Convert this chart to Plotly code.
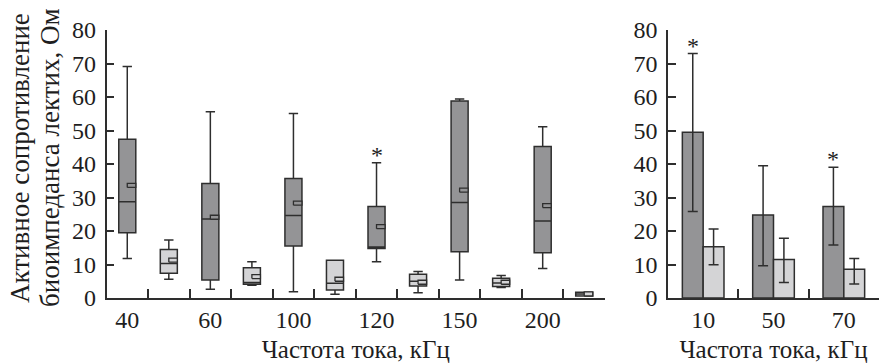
import plotly.graph_objects as go

# ---------------- data ----------------
freq_left = ["40", "60", "100", "120", "150", "200"]
dark_min = [11.8, 2.6, 1.9, 10.8, 5.4, 8.8]
dark_q1 = [19.5, 5.4, 15.5, 14.8, 13.8, 13.5]
dark_med = [28.7, 23.6, 24.6, 15.2, 28.5, 23.0]
dark_q3 = [47.4, 34.2, 35.7, 27.3, 58.8, 45.2]
dark_max = [69.1, 55.6, 55.1, 40.4, 59.4, 51.1]
dark_mean = [33.6, 24.1, 28.3, 21.3, 32.2, 27.6]

light_min = [5.6, 3.8, 1.1, 1.6, 3.1, 0.6]
light_q1 = [7.4, 4.1, 2.4, 3.6, 3.4, 0.6]
light_med = [10.3, 4.6, 4.4, 5.0, 4.5, 1.2]
light_q3 = [14.5, 9.0, 11.3, 7.1, 5.9, 1.7]
light_max = [17.3, 10.8, 11.3, 7.9, 6.7, 1.7]
light_mean = [11.3, 6.4, 5.6, 4.7, 4.7, 1.2]

freq_right = ["10", "50", "70"]
dark_bar = [49.5, 24.8, 27.3]
dark_err_hi = [73.0, 39.5, 39.0]
dark_err_lo = [25.8, 9.6, 15.8]
light_bar = [15.3, 11.5, 8.6]
light_err_hi = [20.6, 17.8, 11.8]
light_err_lo = [9.9, 4.6, 4.2]

star_left = ["120"]
star_left_y = [43.7]
star_right = ["10", "70"]
star_right_y = [76.0, 42.5]

y_title_lines = ["Активное сопротивление", "биоимпеданса лектих, Ом"]
x_title = "Частота тока, кГц"

# ---------------- style ----------------
DARK = "#949496"
LIGHT = "#d4d4d6"
EDGE = "#2e2e2e"
FONT = "Liberation Serif"
TXT = "#1e1e1e"

n = len(freq_left)
pos_dark = [2 * i for i in range(n)]
pos_light = [2 * i + 1 for i in range(n)]
bounds_left = [p + 0.5 for p in pos_dark + pos_light]

fig = go.Figure()

box_w = 0.41
for pos, q1, med, q3, lo, hi, fill in [
    (pos_dark, dark_q1, dark_med, dark_q3, dark_min, dark_max, DARK),
    (pos_light, light_q1, light_med, light_q3, light_min, light_max, LIGHT),
]:
    fig.add_trace(go.Box(
        x=pos, q1=q1, median=med, q3=q3, lowerfence=lo, upperfence=hi,
        fillcolor=fill, line=dict(color=EDGE, width=1.5),
        width=box_w, whiskerwidth=0.55, boxpoints=False,
        xaxis="x", yaxis="y", showlegend=False, hoverinfo="skip",
    ))

# mean markers: small rectangle from box center to right edge
mh = 0.6
for pos, mean, fill in [(pos_dark, dark_mean, DARK), (pos_light, light_mean, LIGHT)]:
    xs, ys = [], []
    for p, m in zip(pos, mean):
        x0, x1 = p, p + box_w / 2
        xs += [x0, x1, x1, x0, x0, None]
        ys += [m - mh, m - mh, m + mh, m + mh, m - mh, None]
    fig.add_trace(go.Scatter(
        x=xs, y=ys, mode="lines", fill="toself", fillcolor=fill,
        line=dict(color=EDGE, width=1.3),
        xaxis="x", yaxis="y", showlegend=False, hoverinfo="skip",
    ))

# right panel bars
bw = 0.296
rpos = list(range(len(freq_right)))
bounds_right = [p + 0.5 for p in rpos]
fig.add_trace(go.Bar(
    x=rpos, y=dark_bar, width=bw, offset=-bw,
    marker=dict(color=DARK, line=dict(color=EDGE, width=1.5)),
    error_y=dict(type="data", symmetric=False,
                 array=[h - v for h, v in zip(dark_err_hi, dark_bar)],
                 arrayminus=[v - l for l, v in zip(dark_err_lo, dark_bar)],
                 color=EDGE, thickness=1.5, width=5),
    xaxis="x2", yaxis="y2", showlegend=False,
))
fig.add_trace(go.Bar(
    x=rpos, y=light_bar, width=bw, offset=0,
    marker=dict(color=LIGHT, line=dict(color=EDGE, width=1.5)),
    error_y=dict(type="data", symmetric=False,
                 array=[h - v for h, v in zip(light_err_hi, light_bar)],
                 arrayminus=[v - l for l, v in zip(light_err_lo, light_bar)],
                 color=EDGE, thickness=1.5, width=5),
    xaxis="x2", yaxis="y2", showlegend=False,
))

# invisible traces so the label axes render
fig.add_trace(go.Scatter(x=pos_dark, y=[None] * n, xaxis="x3", yaxis="y",
                         showlegend=False, hoverinfo="skip"))
fig.add_trace(go.Scatter(x=rpos, y=[None] * len(rpos), xaxis="x4", yaxis="y2",
                         showlegend=False, hoverinfo="skip"))

annotations = []
for f, yv in zip(star_left, star_left_y):
    annotations.append(dict(x=pos_dark[freq_left.index(f)], y=yv, xref="x", yref="y",
                            text="*", showarrow=False, yanchor="middle", yshift=-3,
                            font=dict(family=FONT, size=24, color=TXT)))
for f, yv in zip(star_right, star_right_y):
    annotations.append(dict(x=freq_right.index(f) - bw / 2, y=yv, xref="x2", yref="y2",
                            text="*", showarrow=False, yanchor="middle", yshift=-3,
                            font=dict(family=FONT, size=24, color=TXT)))
for i, line in enumerate(y_title_lines):
    annotations.append(dict(x=(20 + 30 * i) / 880, y=(363 - 158) / 363, xref="paper", yref="paper",
                            text=line, textangle=-90, showarrow=False,
                            xanchor="center", yanchor="middle",
                            font=dict(family=FONT, size=27, color=TXT)))

W, H = 880, 363
yd = [(H - 298) / H, (H - 30) / H]
dl = [106.5 / W, 605 / W]
dr = [668 / W, 879 / W]

tf = dict(family=FONT, size=24, color=TXT)
line_ax = dict(showline=True, linecolor=EDGE, linewidth=1.5, showgrid=False, automargin=False,
               zeroline=False, ticks="inside", ticklen=9, tickcolor=EDGE, tickwidth=1.5,
               showticklabels=False)
label_ax = dict(showline=False, showgrid=False, zeroline=False, ticks="", automargin=False,
                tickfont=tf, ticklabelstandoff=5,
                title=dict(text=x_title, font=dict(family=FONT, size=25, color=TXT), standoff=13))
yax = dict(showline=True, linecolor=EDGE, linewidth=1.5, showgrid=False, zeroline=False,
           automargin=False,
           domain=yd, range=[0, 80], dtick=10, ticks="inside", ticklen=8, tickcolor=EDGE,
           tickwidth=1.5, tickfont=tf, ticklabelstandoff=4)

fig.update_layout(
    width=W, height=H,
    margin=dict(l=0, r=0, t=0, b=0),
    paper_bgcolor="white", plot_bgcolor="white",
    font=dict(family=FONT, color=TXT),
    barmode="overlay",
    xaxis=dict(line_ax, domain=dl, range=[-0.5, 2 * n - 0.5],
               tickmode="array", tickvals=bounds_left, anchor="y"),
    xaxis3=dict(label_ax, domain=dl, range=[-0.5, 2 * n - 0.5], overlaying="x",
                tickmode="array", tickvals=pos_dark, ticktext=freq_left, anchor="y", side="bottom"),
    yaxis=dict(yax, anchor="x"),
    xaxis2=dict(line_ax, domain=dr, range=[-0.5, len(freq_right) - 0.5],
                tickmode="array", tickvals=bounds_right, anchor="y2"),
    xaxis4=dict(label_ax, domain=dr, range=[-0.5, len(freq_right) - 0.5], overlaying="x2",
                tickmode="array", tickvals=rpos, ticktext=freq_right, anchor="y2", side="bottom"),
    yaxis2=dict(yax, anchor="x2"),
    annotations=annotations,
)

fig.write_html("out.html")
